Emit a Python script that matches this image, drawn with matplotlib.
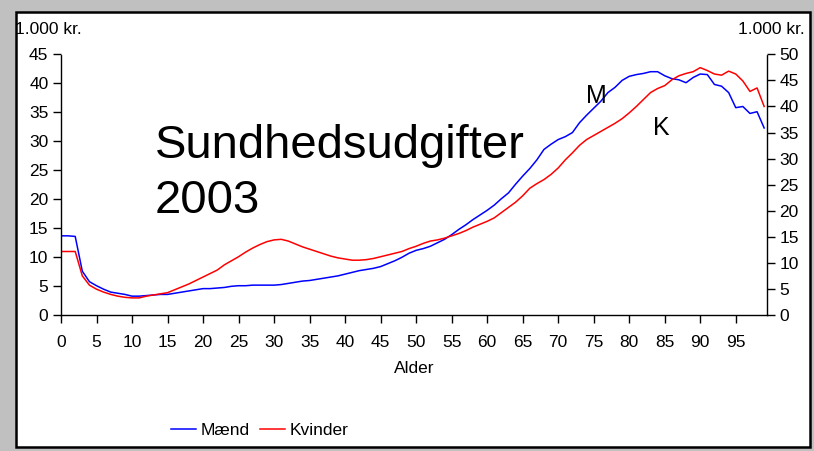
import numpy as np
import matplotlib
matplotlib.use("Agg")
import matplotlib.pyplot as plt
from matplotlib.patches import Rectangle
from matplotlib.lines import Line2D

plt.rcParams['font.family'] = ['Liberation Sans Narrow', 'Liberation Sans', 'DejaVu Sans']

# Sundhedsudgifter 2003 pr. alder (1.000 kr.)
alder = list(range(0, 100))

maend = [13.7, 13.7, 13.6, 7.6, 5.8, 5.1, 4.5, 4.0, 3.8, 3.6,
         3.3, 3.3, 3.4, 3.5, 3.6, 3.6, 3.8, 4.0, 4.2, 4.4,
         4.6, 4.6, 4.7, 4.8, 5.0, 5.1, 5.1, 5.2, 5.2, 5.2,
         5.2, 5.3, 5.5, 5.7, 5.9, 6.0, 6.2, 6.4, 6.6, 6.8,
         7.1, 7.4, 7.7, 7.9, 8.1, 8.4, 8.9, 9.4, 10.0, 10.7,
         11.2, 11.5, 11.9, 12.5, 13.1, 13.9, 14.8, 15.6, 16.5, 17.3,
         18.1, 19.0, 20.1, 21.1, 22.6, 24.0, 25.3, 26.8, 28.6, 29.5,
         30.3, 30.8, 31.5, 33.2, 34.5, 35.7, 36.9, 38.4, 39.3, 40.5,
         41.2, 41.5, 41.7, 42.0, 42.0, 41.3, 40.8, 40.6, 40.1, 41.0,
         41.6, 41.5, 39.8, 39.5, 38.4, 35.8, 36.0, 34.8, 35.1, 32.3]

kvinder = [11.0, 11.0, 11.0, 6.8, 5.2, 4.5, 4.0, 3.6, 3.3, 3.1,
           3.0, 3.0, 3.3, 3.5, 3.7, 3.9, 4.4, 4.9, 5.4, 6.0,
           6.6, 7.2, 7.8, 8.7, 9.4, 10.1, 10.9, 11.6, 12.2, 12.7,
           13.0, 13.1, 12.8, 12.3, 11.8, 11.4, 11.0, 10.6, 10.2, 9.9,
           9.7, 9.5, 9.5, 9.6, 9.8, 10.1, 10.4, 10.7, 11.0, 11.5,
           11.9, 12.4, 12.8, 13.0, 13.3, 13.7, 14.1, 14.6, 15.2, 15.7,
           16.2, 16.8, 17.7, 18.6, 19.5, 20.6, 21.9, 22.7, 23.4, 24.3,
           25.4, 26.8, 28.0, 29.3, 30.3, 31.0, 31.7, 32.4, 33.1, 33.9,
           34.9, 36.0, 37.2, 38.4, 39.1, 39.6, 40.6, 41.3, 41.7, 42.0,
           42.7, 42.2, 41.6, 41.4, 42.1, 41.6, 40.4, 38.6, 39.2, 36.0]

x_ticks = list(range(0, 100, 5))
y_ticks_left = list(range(0, 50, 5))
y_ticks_right = list(range(0, 55, 5))

fig = plt.figure(figsize=(8.14, 4.51), dpi=100, facecolor='#c0c0c0')

# white chart area with black frame
fig.patches.append(Rectangle((16 / 814, 4 / 451), 794 / 814, 435 / 451,
                             transform=fig.transFigure, facecolor='white',
                             edgecolor='black', linewidth=1.8, zorder=-1))

ax = fig.add_axes([61 / 814, 1 - 315.3 / 451, 706 / 814, 261 / 451])
ax.set_facecolor('none')
ax.plot(alder, maend, color='#0000ff', linewidth=1.1)
ax.plot(alder, kvinder, color='#ff0000', linewidth=1.1)

ax.set_xlim(0, 99.4)
ax.set_ylim(0, 45)
ax.set_xticks(x_ticks)
ax.set_yticks(y_ticks_left)
ax.tick_params(axis='both', labelsize=12.5, length=6, width=1, direction='out', pad=3)
ax.tick_params(axis='x', pad=8)
for s in ['top', 'right']:
    ax.spines[s].set_visible(False)
ax.spines['left'].set_linestyle((0, (3, 1)))
ax.spines['left'].set_linewidth(1)
ax.spines['bottom'].set_linewidth(1)
ax.set_xlabel('Alder', fontsize=12.5, labelpad=8)

ax2 = ax.twinx()
ax2.set_ylim(0, 50)
ax2.set_yticks(y_ticks_right)
ax2.tick_params(axis='y', labelsize=12.5, length=6, width=1, direction='out', pad=3)
for s in ['top', 'left', 'bottom']:
    ax2.spines[s].set_visible(False)
ax2.spines['right'].set_linestyle((0, (3, 1)))
ax2.spines['right'].set_linewidth(1)

fig.text(15 / 814, 1 - 30 / 451, '1.000 kr.', fontsize=12.5, va='center', ha='left')
fig.text(805 / 814, 1 - 30 / 451, '1.000 kr.', fontsize=12.5, va='center', ha='right')

fig.text(155 / 814, 1 - 213 / 451, 'Sundhedsudgifter\n2003',
         fontsize=34, family=['Liberation Sans', 'DejaVu Sans'],
         linespacing=1.32, va='baseline', ha='left')
fig.text(596 / 814, 1 - 96 / 451, 'M', fontsize=18, family=['Liberation Sans'], ha='center', va='center')
fig.text(661 / 814, 1 - 128 / 451, 'K', fontsize=18, family=['Liberation Sans'], ha='center', va='center')

handles = [Line2D([], [], color='#0000ff', linewidth=1.1),
           Line2D([], [], color='#ff0000', linewidth=1.1)]
fig.legend(handles, ['Mænd', 'Kvinder'], loc='center', bbox_to_anchor=(260 / 814, 1 - 430 / 451),
           ncol=2, frameon=False, fontsize=12.5, handlelength=1.4, handletextpad=0.3,
           columnspacing=0.6)

fig.savefig('out.png', dpi=100, facecolor=fig.get_facecolor())
